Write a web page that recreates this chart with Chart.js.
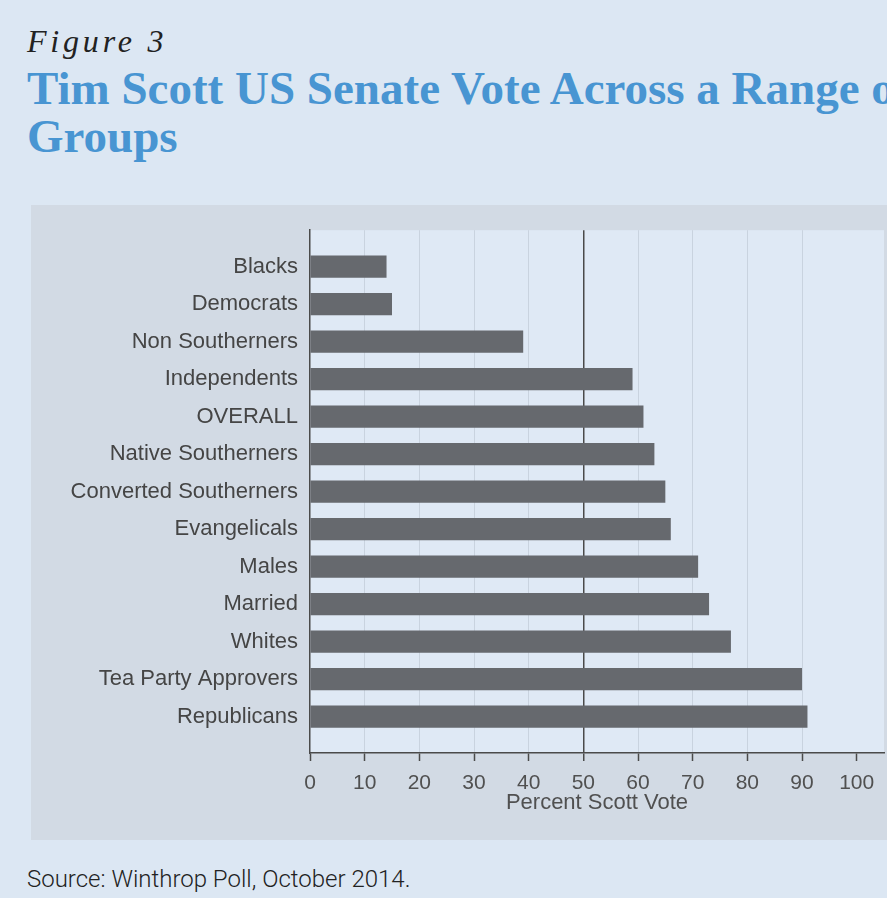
<!DOCTYPE html>
<html>
<head>
<meta charset="utf-8">
<script src="https://cdn.jsdelivr.net/npm/chart.js@4/dist/chart.umd.min.js"></script>
<style>
    html, body {
        margin: 0;
        padding: 0;
    }
    body {
        width: 887px;
        height: 898px;
        overflow: hidden;
        position: relative;
        background: #dce7f3;
    }
    #figLabel {
        position: absolute;
        left: 27px;
        top: 25px;
        font: italic 32px/32px "Liberation Serif", "DejaVu Serif", serif;
        letter-spacing: 3.8px;
        color: #222;
        white-space: nowrap;
    }
    #figTitle {
        position: absolute;
        left: 27px;
        top: 64px;
        font: bold 47px/48px "Liberation Serif", "DejaVu Serif", serif;
        color: #4895d2;
        white-space: nowrap;
    }
    #panel {
        position: absolute;
        left: 31px;
        top: 205px;
        width: 856px;
        height: 635px;
        background: #d2dae4;
    }
    #source {
        position: absolute;
        left: 27px;
        top: 867px;
        font: 300 24px/24px Roboto, "Liberation Sans", sans-serif;
        color: #222;
        white-space: nowrap;
    }
</style>
</head>
<body>
<div id="figLabel">Figure 3</div>
<div id="figTitle">Tim Scott US Senate Vote Across a Range of<br>Groups</div>
<div id="panel"><canvas id="chart" width="856" height="635"></canvas></div>
<div id="source">Source: Winthrop Poll, October 2014.</div>

<script>
// Groups, top to bottom
const groups = [
    'Blacks',
    'Democrats',
    'Non Southerners',
    'Independents',
    'OVERALL',
    'Native Southerners',
    'Converted Southerners',
    'Evangelicals',
    'Males',
    'Married',
    'Whites',
    'Tea Party Approvers',
    'Republicans'
];

// Percent voting for Scott
const scottVote = [14, 15, 39, 59, 61, 63, 65, 66, 71, 73, 77, 90, 91];

const xTicks = [0, 10, 20, 30, 40, 50, 60, 70, 80, 90, 100];

const fontFamily = '"Liberation Sans", Arial, sans-serif';

// Light plot area behind the bars
const plotBackground = {
    id: 'plotBackground',
    beforeDraw(chart) {
        const { ctx, chartArea } = chart;
        ctx.save();
        ctx.fillStyle = '#dfe9f5';
        ctx.fillRect(chartArea.left, chartArea.top, chartArea.right - chartArea.left, chartArea.bottom - chartArea.top);
        ctx.restore();
    }
};

const ctx = document.getElementById('chart').getContext('2d');

new Chart(ctx, {
    type: 'bar',
    data: {
        datasets: [{
            label: 'Percent Scott Vote',
            data: scottVote.map((v, i) => ({ x: v, y: i })),
            backgroundColor: '#66696e',
            borderWidth: 0,
            barPercentage: 0.59,
            categoryPercentage: 1
        }]
    },
    options: {
        indexAxis: 'y',
        responsive: false,
        animation: false,
        layout: {
            padding: { top: 25, right: 3, left: 0, bottom: 0 }
        },
        plugins: {
            legend: { display: false },
            tooltip: { enabled: false }
        },
        scales: {
            y: {
                type: 'linear',
                reverse: true,
                offset: false,
                min: -0.97,
                max: 12.97,
                afterBuildTicks: (scale) => {
                    scale.ticks = groups.map((g, i) => ({ value: i }));
                },
                afterFit: (scale) => {
                    scale.width = 279;
                },
                grid: { display: false, drawTicks: false, offset: false },
                border: { display: true, color: '#4a4a4a', width: 1.5 },
                ticks: {
                    padding: 12,
                    color: '#454545',
                    font: { family: fontFamily, size: 22 },
                    callback: (value) => groups[value]
                }
            },
            x: {
                type: 'linear',
                min: 0,
                max: 105,
                afterBuildTicks: (scale) => {
                    scale.ticks = xTicks.map(v => ({ value: v }));
                },
                afterFit: (scale) => {
                    scale.height = 87;
                },
                grid: {
                    color: (c) => {
                        const v = c.tick ? c.tick.value : null;
                        if (v === 50) return '#4a4a4a';
                        if (v === 0 || v === 100) return 'rgba(0,0,0,0)';
                        return '#c9d3df';
                    },
                    lineWidth: (c) => (c.tick && c.tick.value === 50 ? 1.5 : 1),
                    tickColor: '#4a4a4a',
                    tickLength: 8,
                    tickWidth: 1.5
                },
                border: { display: true, color: '#4a4a4a', width: 1.5 },
                ticks: {
                    padding: 10,
                    color: '#505050',
                    font: { family: fontFamily, size: 21 },
                    maxRotation: 0
                },
                title: {
                    display: true,
                    text: 'Percent Scott Vote',
                    color: '#505050',
                    font: { family: fontFamily, size: 22 },
                    padding: { top: 0, bottom: 24 }
                }
            }
        }
    },
    plugins: [plotBackground]
});
</script>
</body>
</html>
